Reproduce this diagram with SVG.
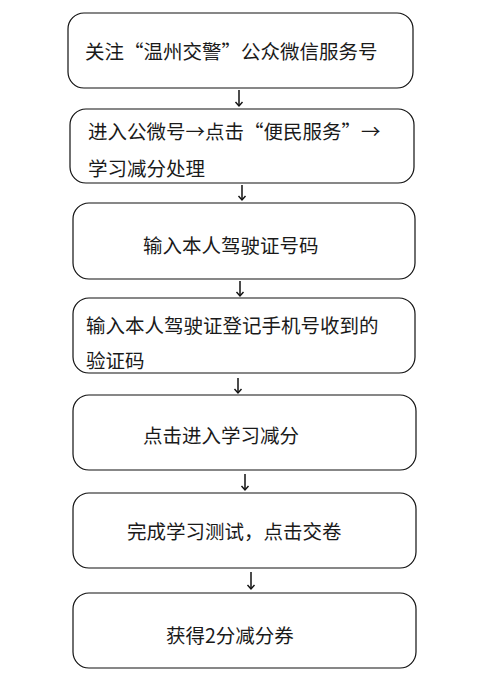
<svg xmlns="http://www.w3.org/2000/svg" width="495" height="684" viewBox="0 0 495 684">
<style>
.box{fill:#fff;stroke:#111;stroke-width:1.2}
.t{font-family:"Noto Sans CJK SC","Noto Sans",sans-serif;font-size:19.5px;fill:#1a1a1a}
.c{stroke:#111;stroke-width:1.5;fill:none;marker-end:url(#ah)}
</style>
<defs>
<marker id="ah" markerWidth="10" markerHeight="10" refX="8" refY="5" orient="auto" markerUnits="userSpaceOnUse" viewBox="0 0 10 10">
<path d="M4,1.5 L8,5 L4,8.5" fill="none" stroke="#111" stroke-width="1.4"/>
</marker>
</defs>
<rect width="495" height="684" fill="#fff"/>
<g id="connectors">
<line class="c" x1="239" y1="90" x2="239" y2="106"/>
<line class="c" x1="242" y1="185" x2="242" y2="200"/>
<line class="c" x1="240" y1="281" x2="240" y2="296"/>
<line class="c" x1="238" y1="378" x2="238" y2="393"/>
<line class="c" x1="245" y1="474" x2="245" y2="490"/>
<line class="c" x1="251" y1="572" x2="251" y2="589"/>
</g>
<g id="n1"><rect class="box" x="68" y="13" width="345" height="75" rx="16"/>
<text class="t" x="85" y="59">关注“温州交警”公众微信服务号</text></g>
<g id="n2"><rect class="box" x="70" y="109" width="344" height="74" rx="16"/>
<text class="t" x="88" y="139">进入公微号→点击“便民服务”→</text>
<text class="t" x="88" y="176">学习减分处理</text></g>
<g id="n3"><rect class="box" x="73" y="203" width="342" height="76" rx="16"/>
<text class="t" x="143" y="253">输入本人驾驶证号码</text></g>
<g id="n4"><rect class="box" x="73" y="298" width="342" height="75" rx="16"/>
<text class="t" x="86" y="333">输入本人驾驶证登记手机号收到的</text>
<text class="t" x="86" y="368">验证码</text></g>
<g id="n5"><rect class="box" x="73" y="395" width="343" height="75" rx="16"/>
<text class="t" x="143" y="443">点击进入学习减分</text></g>
<g id="n6"><rect class="box" x="73" y="493" width="343" height="75" rx="16"/>
<text class="t" x="127" y="539">完成学习测试，点击交卷</text></g>
<g id="n7"><rect class="box" x="73" y="593" width="343" height="75" rx="16"/>
<text class="t" x="166" y="643">获得2分减分券</text></g>
</svg>
